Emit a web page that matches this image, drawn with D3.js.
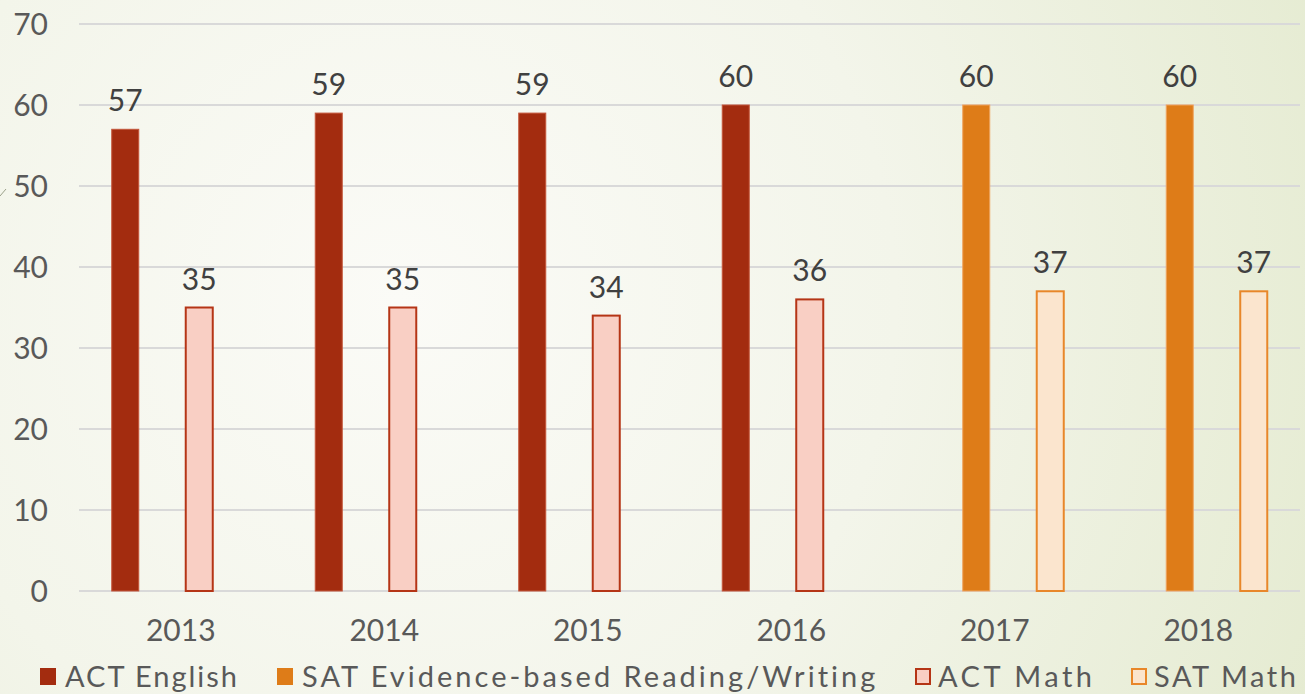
<!DOCTYPE html>
<meta charset="utf-8">
<style>
  body { margin: 0; background: #f4f6ec; }
  svg { display: block; }
  .tick text { font-family: Lato, "Open Sans", sans-serif; }
</style>
<body>
<div id="chart"></div>
<script src="https://d3js.org/d3.v7.min.js"></script>
<script>
  // chart data
  var years = ["2013", "2014", "2015", "2016", "2017", "2018"];
  var seriesNames = ["ACT English", "SAT Evidence-based Reading/Writing", "ACT Math", "SAT Math"];
  var actEnglish = [57, 59, 59, 60, null, null];
  var satReading = [null, null, null, null, 60, 60];
  var actMath    = [35, 35, 34, 36, null, null];
  var satMath    = [null, null, null, null, 37, 37];
  var yTicks = [0, 10, 20, 30, 40, 50, 60, 70];

  var seriesValues = [actEnglish, satReading, actMath, satMath];
  var fills   = ["#A32C0F", "#DE7C18", "#F9CFC4", "#FBE5CE"];
  var strokes = ["#C4563A", "#EFA45E", "#B53516", "#E8872A"];

  var W = 1305, H = 694;
  var plotLeft = 79, plotRight = 1300, plotTop = 24, plotBottom = 591;

  var svg = d3.select("#chart").append("svg")
      .attr("width", W).attr("height", H);

  // background
  var defs = svg.append("defs");
  var grad = defs.append("radialGradient")
      .attr("id", "bg").attr("gradientUnits", "userSpaceOnUse")
      .attr("cx", 400).attr("cy", 300).attr("r", 1100);
  grad.append("stop").attr("offset", "0%").attr("stop-color", "#FBFBF7");
  grad.append("stop").attr("offset", "45%").attr("stop-color", "#F3F5EA");
  grad.append("stop").attr("offset", "100%").attr("stop-color", "#E2E9CC");
  svg.append("rect").attr("width", W).attr("height", H).attr("fill", "url(#bg)");

  // little stray mark on the left edge
  svg.append("line").attr("x1", 0).attr("y1", 196).attr("x2", 6).attr("y2", 189)
      .attr("stroke", "#9aa08a").attr("stroke-width", 1);

  var x0 = d3.scaleBand().domain(years).range([plotLeft, plotRight]).paddingInner(0).paddingOuter(0);
  var x1 = d3.scaleBand().domain(seriesNames).range([0, x0.bandwidth()])
      .paddingInner(0.216).paddingOuter(0.858);
  var y = d3.scaleLinear().domain([0, 70]).range([plotBottom, plotTop]);

  // gridlines
  svg.append("g").selectAll("line").data(yTicks).enter().append("line")
      .attr("x1", plotLeft).attr("x2", plotRight)
      .attr("y1", function(d) { return y(d); })
      .attr("y2", function(d) { return y(d); })
      .attr("stroke", "#D9D9D9").attr("stroke-width", 2);

  // y axis labels
  var yAxis = d3.axisLeft(y).tickValues(yTicks).tickSize(0).tickPadding(0);
  var gy = svg.append("g").attr("transform", "translate(48,0)").call(yAxis);
  gy.select(".domain").remove();
  gy.selectAll("text").attr("font-size", 30).attr("fill", "#595959")
      .attr("dy", "0.35em");

  // x axis labels
  var xAxis = d3.axisBottom(x0).tickSize(0).tickPadding(0);
  var gx = svg.append("g").attr("transform", "translate(0,641)").call(xAxis);
  gx.select(".domain").remove();
  gx.selectAll("text").attr("font-size", 30).attr("fill", "#595959").attr("dy", 0);

  // bars
  var bars = [];
  seriesValues.forEach(function(vals, s) {
    vals.forEach(function(v, i) {
      if (v !== null) bars.push({ year: years[i], series: seriesNames[s], s: s, value: v });
    });
  });

  var barW = x1.bandwidth();
  svg.append("g").selectAll("rect").data(bars).enter().append("rect")
      .attr("x", function(d) { return x0(d.year) + x1(d.series) + 1; })
      .attr("y", function(d) { return y(d.value); })
      .attr("width", barW - 2)
      .attr("height", function(d) { return y(0) - y(d.value); })
      .attr("fill", function(d) { return fills[d.s]; })
      .attr("stroke", function(d) { return strokes[d.s]; })
      .attr("stroke-width", function(d) { return d.s >= 2 ? 2 : 1; });

  // data labels
  svg.append("g").selectAll("text").data(bars).enter().append("text")
      .attr("x", function(d) { return x0(d.year) + x1(d.series) + barW / 2; })
      .attr("y", function(d) { return y(d.value) - 18; })
      .attr("text-anchor", "middle")
      .attr("font-family", "Lato, 'Open Sans', sans-serif")
      .attr("font-size", 30)
      .attr("fill", "#404040")
      .text(function(d) { return d.value; });

  // legend
  var legendX = [40, 277, 915, 1131];
  var legend = svg.append("g").selectAll("g").data(seriesNames).enter().append("g")
      .attr("transform", function(d, i) { return "translate(" + legendX[i] + ",668)"; });
  legend.append("rect")
      .attr("x", function(d, i) { return i >= 2 ? 1 : 0; })
      .attr("y", function(d, i) { return i >= 2 ? 1 : 0; })
      .attr("width", function(d, i) { return i >= 2 ? 14 : 16; })
      .attr("height", function(d, i) { return i >= 2 ? 15 : 17; })
      .attr("fill", function(d, i) { return fills[i]; })
      .attr("stroke", function(d, i) { return i >= 2 ? strokes[i] : "none"; })
      .attr("stroke-width", 2);
  legend.append("text")
      .attr("x", function(d, i) { return i >= 2 ? 23 : 25; })
      .attr("y", 19)
      .attr("font-family", "Lato, 'Open Sans', sans-serif")
      .attr("font-size", 29)
      .attr("fill", "#595959")
      .text(function(d) { return d; })
      .each(function(d, i) {
        // stretch the text to the width seen in the picture
        var target = [172, 574, 154, 142][i];
        var len = this.getComputedTextLength();
        var n = d.length;
        if (n > 1) d3.select(this).attr("letter-spacing", ((target - len) / (n - 1)).toFixed(2));
      });
</script>
</body>
